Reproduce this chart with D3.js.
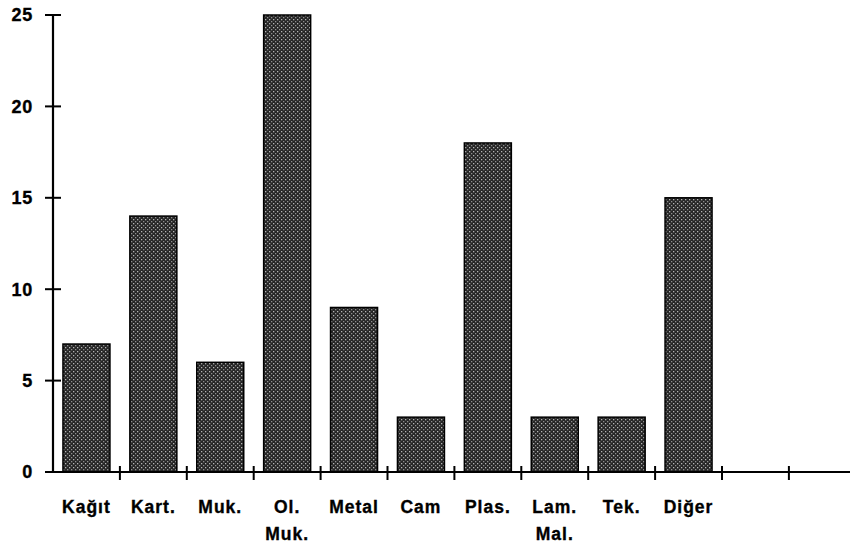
<!DOCTYPE html>
<html>
<head>
<meta charset="utf-8">
<script src="https://cdn.jsdelivr.net/npm/d3@7"></script>
<style>
  body { margin: 0; background: #fff; }
  text { font-family: "Liberation Sans", Arial, sans-serif; font-weight: bold; fill: #000; stroke: #000; stroke-width: 0.35px; }
</style>
</head>
<body>
<div id="chart"></div>
<script>
const categories = [["Kağıt"], ["Kart."], ["Muk."], ["Ol.", "Muk."], ["Metal"], ["Cam"],
  ["Plas."], ["Lam.", "Mal."], ["Tek."], ["Diğer"], [""], [""]];
const values = [7, 14, 6, 25, 9, 3, 18, 3, 3, 15, null, null];
const yTicks = [0, 5, 10, 15, 20, 25];

const W = 850, H = 547;
const margin = { top: 15, right: 0, bottom: 75, left: 53 };
const height = H - margin.top - margin.bottom;
const step = 66.9;

const svg = d3.select("#chart").append("svg")
  .attr("width", W).attr("height", H);

const defs = svg.append("defs");
const pat = defs.append("pattern")
  .attr("id", "dots").attr("patternUnits", "userSpaceOnUse")
  .attr("width", 4).attr("height", 4);
pat.append("rect").attr("width", 4).attr("height", 4).attr("fill", "#262626");
pat.append("rect").attr("x", 0).attr("y", 0).attr("width", 1.3).attr("height", 1.3).attr("fill", "#b5b5b5");
pat.append("rect").attr("x", 2).attr("y", 2).attr("width", 1.3).attr("height", 1.3).attr("fill", "#8f8f8f");

const g = svg.append("g").attr("transform", `translate(${margin.left},${margin.top})`);

const x = d3.scaleBand()
  .domain(d3.range(categories.length))
  .range([0, step * categories.length])
  .paddingInner(0).paddingOuter(0);
const y = d3.scaleLinear().domain([0, 25]).range([height, 0]);

const barW = 47;

g.selectAll(".bar")
  .data(values.map((v, i) => ({ v, i })).filter(d => d.v != null))
  .enter().append("rect")
  .attr("x", d => x(d.i) + (x.bandwidth() - barW) / 2)
  .attr("y", d => y(d.v))
  .attr("width", barW)
  .attr("height", d => y(0) - y(d.v))
  .attr("fill", "url(#dots)")
  .attr("stroke", "#000").attr("stroke-width", 1.5);

// y axis
g.append("line").attr("x1", 0).attr("x2", 0).attr("y1", y(25)).attr("y2", y(0))
  .attr("stroke", "#000").attr("stroke-width", 2.2);
g.selectAll(".ytick").data(yTicks).enter().append("line")
  .attr("x1", -8).attr("x2", 8)
  .attr("y1", d => y(d)).attr("y2", d => y(d))
  .attr("stroke", "#000").attr("stroke-width", 2);
g.selectAll(".ylab").data(yTicks).enter().append("text")
  .attr("x", -20).attr("y", d => y(d)).attr("dy", "0.36em")
  .attr("text-anchor", "end")
  .style("font-size", "18px").style("letter-spacing", "0.8px")
  .text(d => d);

// x axis
g.append("line").attr("x1", 0).attr("x2", W - margin.left).attr("y1", y(0)).attr("y2", y(0))
  .attr("stroke", "#000").attr("stroke-width", 2.2);
g.selectAll(".xtick").data(d3.range(1, categories.length)).enter().append("line")
  .attr("x1", d => x(d)).attr("x2", d => x(d))
  .attr("y1", y(0) - 6).attr("y2", y(0) + 8)
  .attr("stroke", "#000").attr("stroke-width", 2);

const labs = g.selectAll(".xlab").data(categories).enter().append("text")
  .attr("x", (d, i) => x(i) + x.bandwidth() / 2)
  .attr("y", y(0) + 41)
  .attr("text-anchor", "middle")
  .style("font-size", "17.5px").style("letter-spacing", "1px");
labs.selectAll("tspan").data(d => d).enter().append("tspan")
  .attr("x", function () { return d3.select(this.parentNode).attr("x"); })
  .attr("dy", (d, i) => i === 0 ? 0 : 27)
  .text(d => d);
</script>
</body>
</html>
